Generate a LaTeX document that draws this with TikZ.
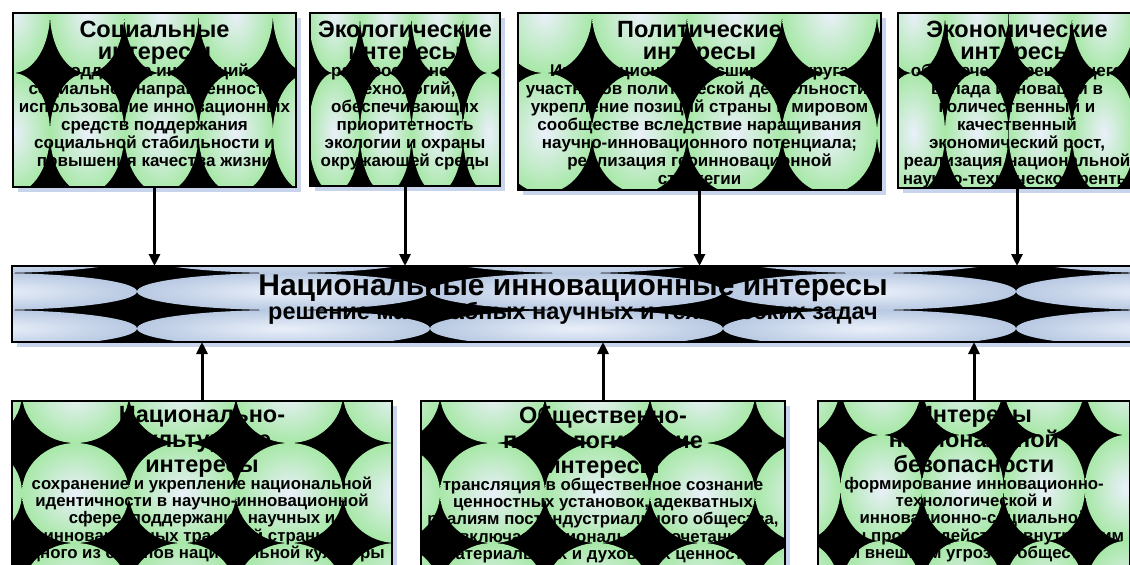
\documentclass[tikz,border=0pt]{standalone}
\usepackage{fontspec}
\setmainfont{Liberation Sans}
\usetikzlibrary{arrows.meta}
\definecolor{grout}{RGB}{168,232,168}
\definecolor{grin}{RGB}{234,240,250}
\definecolor{blout}{RGB}{184,201,226}
\definecolor{blin}{RGB}{234,240,250}
\definecolor{shad}{RGB}{200,212,236}
\newcommand{\tf}[1]{{\fontsize{23.5}{22}\selectfont #1}}
\newcommand{\nolsk}{\lineskiplimit=-100pt\relax}
\tikzset{
  greentile/.style={inner color=grin, outer color=grout},
  bluetile/.style={inner color=blin, outer color=blout},
  frame/.style={draw=black, line width=2pt, inner sep=0pt, outer sep=0pt},
  body/.style={font={\fontsize{17}{18}\selectfont\bfseries\nolsk}, align=center, inner sep=0pt, anchor=north},
  bbody/.style={font={\fontsize{16.8}{17.3}\selectfont\bfseries\nolsk}, align=center, inner sep=0pt, anchor=north},
  conn/.style={line width=3pt, -{Triangle[length=12pt,width=11pt]}}
}
\def\tilestyle{greentile}
% #1 name, #2 x1, #3 y1, #4 x2, #5 y2, #6 x0, #7 y0, #8 tile w, #9 tile h
\newcommand{\tiledbox}[9]{%
  \fill[shad] (#2+5,#3+5) rectangle (#4+5,#5+5);
  \fill[black] (#2,#3) rectangle (#4,#5);
  \begin{scope}
    \clip (#2,#3) rectangle (#4,#5);
    \pgfmathtruncatemacro\imin{floor((#2-#6)/#8)-1}
    \pgfmathtruncatemacro\imax{floor((#4-#6)/#8)+1}
    \pgfmathtruncatemacro\jmin{floor((#3-#7)/#9)-1}
    \pgfmathtruncatemacro\jmax{floor((#5-#7)/#9)+1}
    \foreach \i in {\imin,...,\imax}{\foreach \j in {\jmin,...,\jmax}{
      \shade[\tilestyle] ({#6+(\i+0.5)*#8},{#7+(\j+0.5)*#9}) ellipse ({#8/2} and {#9/2});}}
  \end{scope}
  \node[frame, minimum width={#4-#2}, minimum height={#5-#3}] (#1) at ({(#2+#4)/2},{(#3+#5)/2}) {};
}
\begin{document}
\begin{tikzpicture}[x=1pt,y=-1pt]
\useasboundingbox (0,0) rectangle (1130,565);
\fill[white] (0,0) rectangle (1130,565);

% top boxes
\tiledbox{s1}{13}{13}{296}{187}{50}{73}{74.3}{120}
\tiledbox{s2}{310}{13}{500}{186}{360}{73}{51.5}{120}
\tiledbox{s3}{518}{13}{881}{190}{592}{73}{95}{120}
\tiledbox{s4}{898}{13}{1136}{188}{945}{73}{63.5}{120}

% bar
\def\tilestyle{bluetile}
\tiledbox{bar}{12}{266}{1140}{342}{137}{273}{293}{37}
\def\tilestyle{greentile}

% bottom boxes
\tiledbox{s5}{12}{401}{392}{575}{22}{443}{107}{100}
\tiledbox{s6}{421}{401}{785}{575}{440}{443}{105}{100}
\tiledbox{s7}{818}{401}{1130}{575}{922}{435}{81.5}{106}

% texts top
\node[body] (d1) at (154.5,21) {\tf{Социальные}\\[4pt]\tf{интересы}\\[-1pt]поддержка инноваций\\социальной направленности;\\использование инновационных\\средств поддержания\\социальной стабильности и\\повышения качества жизни};
\node[body] (d2) at (405,21) {\tf{Экологические}\\[4pt]\tf{интересы}\\[-1pt]распространение\\технологий,\\обеспечивающих\\приоритетность\\экологии и охраны\\окружающей среды};
\node[body] (d3) at (699.5,21) {\tf{Политические}\\[4pt]\tf{интересы}\\[-1pt]Институционное расширение круга\\участников политической деятельности;\\укрепление позиций страны в мировом\\сообществе вследствие наращивания\\научно-инновационного потенциала;\\реализация геоинновационной\\стратегии};
\node[body] (d4) at (1017,21) {\tf{Экономические}\\[4pt]\tf{интересы}\\[-1pt]обеспечение решающего\\вклада инноваций в\\количественный и\\качественный\\экономический рост,\\реализация национальной\\научно-технической ренты};

% bar texts
\node[font=\fontsize{30}{30}\selectfont\bfseries, inner sep=0pt, anchor=base, text depth=0pt] (bt) at (573,295) {Национальные инновационные интересы};
\node[font=\fontsize{23.5}{24}\selectfont\bfseries, inner sep=0pt, anchor=base] (bs) at (573,319) {решение масштабных научных и технических задач};

% texts bottom
\node[bbody] (d5) at (202,405.9) {\tf{Национально-}\\[7.7pt]\tf{культурные}\\[7.7pt]\tf{интересы}\\[-0.3pt]сохранение и укрепление национальной\\идентичности в научно-инновационной\\сфере, поддержание научных и\\инновационных традиций страны как\\одного из столпов национальной культуры};
\node[bbody] (d6) at (603,405.9) {\tf{Общественно-}\\[7.7pt]\tf{психологические}\\[7.7pt]\tf{интересы}\\[-0.3pt]трансляция в общественное сознание\\ценностных установок, адекватных\\реалиям постиндустриального общества,\\включая рациональное сочетание\\материальных и духовных ценностей};
\node[bbody] (d7) at (974,405.9) {\tf{Интересы}\\[7.7pt]\tf{национальной}\\[7.7pt]\tf{безопасности}\\[-0.3pt]формирование инновационно-\\технологической и\\инновационно-социальной\\базы противодействия внутренним\\и внешним угрозам обществу};

% connectors
\draw[conn] (s1.south) -- (s1.south |- bar.north);
\draw[conn] (s2.south) -- (s2.south |- bar.north);
\draw[conn] (s3.south) -- (s3.south |- bar.north);
\draw[conn] (s4.south) -- (s4.south |- bar.north);
\draw[conn] (s5.north) -- (s5.north |- bar.south);
\draw[conn] (s6.north) -- (s6.north |- bar.south);
\draw[conn] (s7.north) -- (s7.north |- bar.south);
\end{tikzpicture}
\end{document}
